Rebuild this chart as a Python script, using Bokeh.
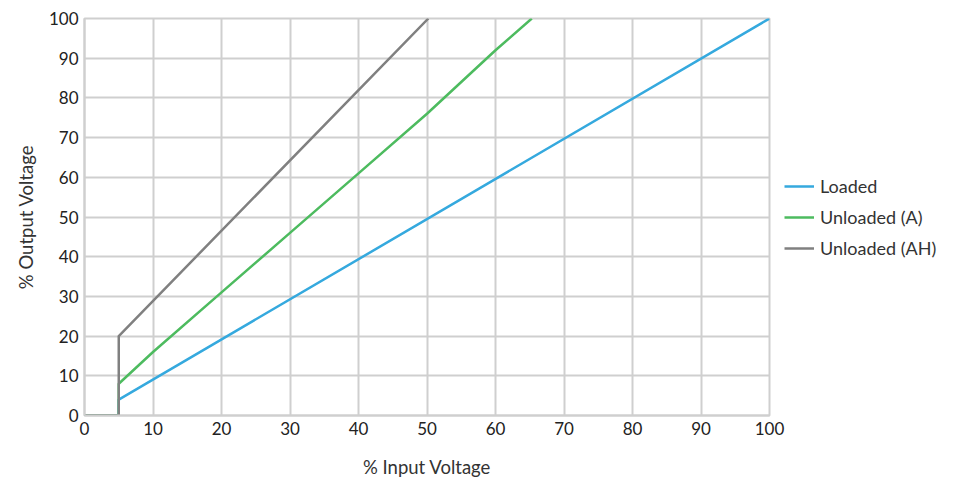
from bokeh.plotting import figure
from bokeh.models import Range1d, Legend, LegendItem, FixedTicker
from bokeh.embed import file_html
from bokeh.resources import INLINE

# Data
x_ticks = [0, 10, 20, 30, 40, 50, 60, 70, 80, 90, 100]
y_ticks = [0, 10, 20, 30, 40, 50, 60, 70, 80, 90, 100]

loaded_x = [0, 5, 5, 100]
loaded_y = [0, 0, 4, 100]

unloaded_a_x = [0, 5, 5, 10, 20, 30, 40, 50, 60, 65.3]
unloaded_a_y = [0, 0, 8, 16, 31, 46, 61, 76, 92, 100]

unloaded_ah_x = [0, 5, 5, 50.2]
unloaded_ah_y = [0, 0, 20, 100]

series_names = ["Loaded", "Unloaded (A)", "Unloaded (AH)"]
series_colors = ["#35a9de", "#4dbb5f", "#808080"]

FONT = "Lato"
GRID = "#cfcfcf"

p = figure(frame_width=685, frame_height=397, output_backend="svg", toolbar_location=None,
           x_range=Range1d(0, 100), y_range=Range1d(0, 100),
           min_border_left=84, min_border_right=0, min_border_top=18, min_border_bottom=62)

p.outline_line_color = GRID
p.outline_line_width = 2

for ax, ticks in ((p.xaxis[0], x_ticks), (p.yaxis[0], y_ticks)):
    ax.ticker = FixedTicker(ticks=ticks)
    ax.axis_line_color = GRID
    ax.axis_line_width = 2
    ax.major_tick_line_color = None
    ax.minor_tick_line_color = None
    ax.major_label_text_font = FONT
    ax.major_label_text_font_size = "17px"
    ax.major_label_text_color = "#222222"
    ax.axis_label_text_font = FONT
    ax.axis_label_text_font_size = "18.5px"
    ax.axis_label_text_font_style = "normal"
    ax.axis_label_text_color = "#333333"

p.xaxis.axis_label = "% Input Voltage"
p.yaxis.axis_label = "% Output Voltage"
p.xaxis.major_label_standoff = 0
p.xaxis.axis_label_standoff = 18
p.yaxis.major_label_standoff = 0
p.yaxis.axis_label_standoff = 9

p.xgrid.ticker = FixedTicker(ticks=x_ticks)
p.ygrid.ticker = FixedTicker(ticks=y_ticks)
p.grid.grid_line_color = GRID
p.grid.grid_line_width = 2

r1 = p.line(loaded_x, loaded_y, line_color=series_colors[0], line_width=2.5)
r2 = p.line(unloaded_a_x, unloaded_a_y, line_color=series_colors[1], line_width=2.5)
r3 = p.line(unloaded_ah_x, unloaded_ah_y, line_color=series_colors[2], line_width=2.5)

legend = Legend(items=[LegendItem(label=series_names[0], renderers=[r1]),
                       LegendItem(label=series_names[1], renderers=[r2]),
                       LegendItem(label=series_names[2], renderers=[r3])],
                location="center_left")
legend.border_line_color = None
legend.background_fill_alpha = 0
legend.padding = 0
legend.margin = 15
legend.spacing = 9
legend.glyph_width = 30
legend.glyph_height = 20
legend.label_height = 20
legend.label_standoff = 6
legend.label_text_font = FONT
legend.label_text_font_size = "18px"
legend.label_text_color = "#333333"
p.add_layout(legend, "right")

open("out.html", "w").write(file_html(p, INLINE))
